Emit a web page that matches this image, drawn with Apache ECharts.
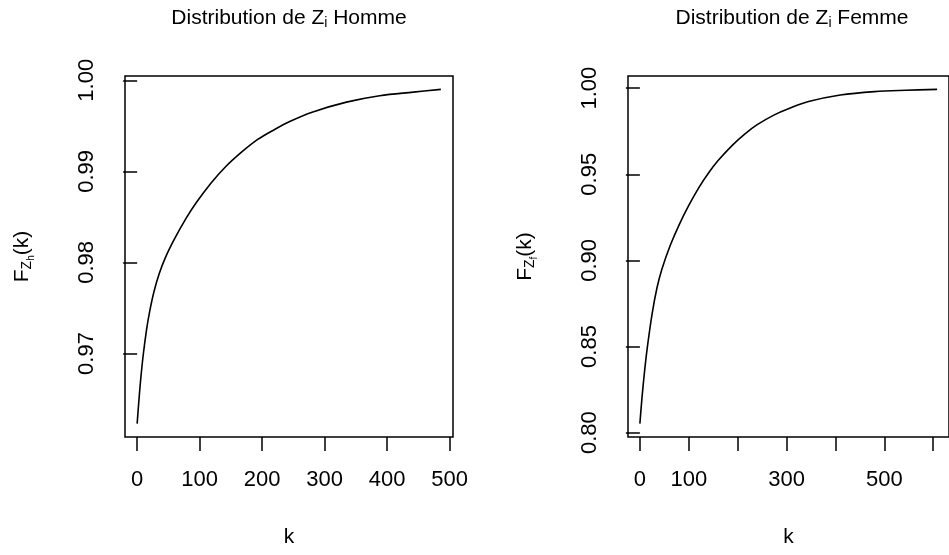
<!DOCTYPE html>
<html>
<head>
<meta charset="utf-8">
<script src="https://cdn.jsdelivr.net/npm/echarts@6/dist/echarts.min.js"></script>
<style>
  html, body { margin: 0; padding: 0; background: #fff; }
  #chart { width: 949px; height: 555px; }
</style>
</head>
<body>
<div id="chart"></div>
<script>
// ---- Data ----
const kHomme = [0, 3, 6, 10, 15, 20, 27, 35, 45, 60, 78, 95, 118, 140, 167, 193, 220, 245, 280, 335, 388, 442, 486];
const fHomme = [0.9623, 0.9650, 0.9674, 0.9700, 0.9726, 0.9746, 0.9768, 0.9787, 0.9805, 0.9826, 0.9848, 0.9866, 0.9887, 0.9904, 0.9921, 0.9935, 0.9946, 0.9955, 0.9965, 0.9976, 0.9983, 0.9987, 0.9990];

const kFemme = [0, 4, 9, 15, 25, 35, 45, 62, 80, 100, 120, 140, 160, 190, 215, 240, 275, 305, 345, 410, 480, 545, 608];
const fFemme = [0.8052, 0.8193, 0.8340, 0.8490, 0.8690, 0.8841, 0.8949, 0.9086, 0.9205, 0.9319, 0.9420, 0.9506, 0.9580, 0.9671, 0.9735, 0.9788, 0.9845, 0.9882, 0.9922, 0.9960, 0.9980, 0.9988, 0.9993];

const xTicksHomme = [0, 100, 200, 300, 400, 500];
const xLabelsHomme = [0, 100, 200, 300, 400, 500];
const yTicksHomme = [0.97, 0.98, 0.99, 1.00];

const xTicksFemme = [0, 100, 200, 300, 400, 500, 600];
const xLabelsFemme = [0, 100, 300, 500];
const yTicksFemme = [0.80, 0.85, 0.90, 0.95, 1.00];

const titleHomme = ['Distribution de Z', 'i', ' Homme'];
const titleFemme = ['Distribution de Z', 'i', ' Femme'];
const yNameHomme = ['F', 'Z', 'h', '(k)'];
const yNameFemme = ['F', 'Z', 'f', '(k)'];
const xName = 'k';

// ---- helpers ----
const FONT = 'Liberation Sans';
function pairs(ks, fs) { return ks.map((k, i) => [k, fs[i]]); }
function rExt(arr) { // R style 4% extension
  const mn = Math.min(...arr), mx = Math.max(...arr), d = mx - mn;
  return [mn - 0.04 * d, mx + 0.04 * d];
}
const xrH = rExt(kHomme), yrH = rExt(fHomme);
const xrF = rExt(kFemme), yrF = rExt(fFemme);

const titleRich = {
  a: { fontFamily: FONT, fontSize: 21, fontWeight: 'normal', color: '#000', lineHeight: 30 },
  s: { fontFamily: FONT, fontSize: 14, fontWeight: 'normal', color: '#000', lineHeight: 14, verticalAlign: 'top', padding: [13, 0, 0, 0] }
};
const nameRich = {
  a: { fontFamily: FONT, fontSize: 21, color: '#000', lineHeight: 30 },
  z: { fontFamily: FONT, fontSize: 14, color: '#000', lineHeight: 14, verticalAlign: 'top', padding: [13, 0, 0, 0] },
  h: { fontFamily: FONT, fontSize: 10, color: '#000', lineHeight: 10, verticalAlign: 'top', padding: [19, 0, 0, 0] }
};
function titleText(p) { return '{a|' + p[0] + '}{s|' + p[1] + '}{a|' + p[2] + '}'; }
function yNameText(p) { return '{a|' + p[0] + '}{z|' + p[1] + '}{h|' + p[2] + '}{a|' + p[3] + '}'; }

const grids = [
  { left: 125, top: 76, width: 328, height: 362 },
  { left: 628, top: 76, width: 329, height: 362 }
];
grids.forEach(g => { g.show = true; g.borderColor = '#000'; g.borderWidth = 1.5; g.backgroundColor = 'transparent'; });

function xAxis(idx, range, ticks, labels) {
  return {
    type: 'value', gridIndex: idx, min: range[0], max: range[1],
    name: xName, nameLocation: 'middle', nameGap: 87,
    nameTextStyle: { fontFamily: FONT, fontSize: 21, color: '#000', lineHeight: 26 },
    axisLine: { show: false },
    splitLine: { show: false },
    axisTick: { show: true, inside: false, length: 14, customValues: ticks, lineStyle: { color: '#000', width: 1.5 } },
    axisLabel: { show: true, margin: 32, customValues: labels, fontFamily: FONT, fontSize: 22, color: '#000', formatter: v => String(Math.round(v)) }
  };
}
function yAxis(idx, range, ticks, nameParts) {
  return {
    type: 'value', gridIndex: idx, min: range[0], max: range[1],
    name: yNameText(nameParts), nameLocation: 'middle', nameRotate: 90, nameGap: 88,
    nameTextStyle: { rich: nameRich },
    axisLine: { show: false },
    splitLine: { show: false },
    axisTick: { show: true, inside: false, length: 14, customValues: ticks, lineStyle: { color: '#000', width: 1.5 } },
    axisLabel: { show: true, rotate: 90, margin: 27, customValues: ticks, fontFamily: FONT, fontSize: 22, color: '#000', formatter: v => v.toFixed(2) }
  };
}

const chart = echarts.init(document.getElementById('chart'), null, { renderer: 'canvas' });
chart.setOption({
  backgroundColor: '#fff',
  animation: false,
  title: [
    { text: titleText(titleHomme), left: 289, top: 3, padding: 0, textAlign: 'center', textStyle: { fontWeight: 'normal', rich: titleRich } },
    { text: titleText(titleFemme), left: 792, top: 3, padding: 0, textAlign: 'center', textStyle: { fontWeight: 'normal', rich: titleRich } }
  ],
  grid: grids,
  xAxis: [xAxis(0, xrH, xTicksHomme, xLabelsHomme), xAxis(1, xrF, xTicksFemme, xLabelsFemme)],
  yAxis: [yAxis(0, yrH, yTicksHomme, yNameHomme), yAxis(1, yrF, yTicksFemme, yNameFemme)],
  series: [
    { type: 'line', xAxisIndex: 0, yAxisIndex: 0, data: pairs(kHomme, fHomme), showSymbol: false, smooth: 0.35, lineStyle: { color: '#000', width: 1.6 }, silent: true },
    { type: 'line', xAxisIndex: 1, yAxisIndex: 1, data: pairs(kFemme, fFemme), showSymbol: false, smooth: 0.35, lineStyle: { color: '#000', width: 1.6 }, silent: true }
  ]
});
</script>
</body>
</html>
